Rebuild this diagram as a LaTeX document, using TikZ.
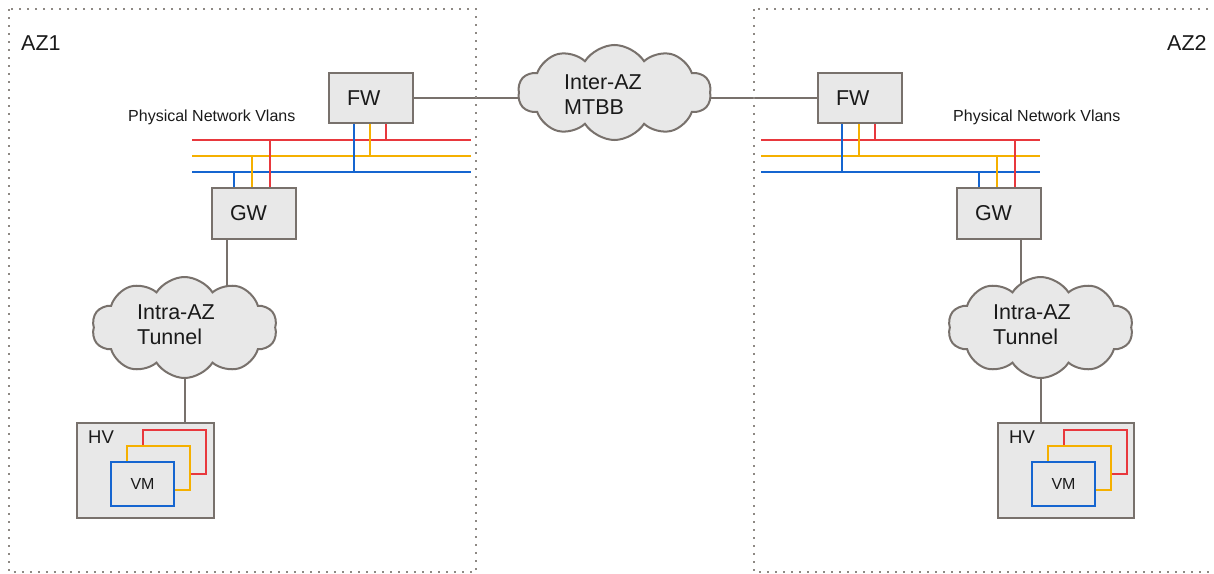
\documentclass[tikz,border=0pt]{standalone}
\usepackage{fontspec}
\setmainfont{Liberation Sans}
\usetikzlibrary{shapes.symbols,backgrounds}
\definecolor{edgegray}{HTML}{78716C}
\definecolor{boxfill}{HTML}{E8E8E8}
\definecolor{dotgray}{HTML}{8E8984}
\definecolor{vred}{HTML}{E8383D}
\definecolor{vyellow}{HTML}{F5B000}
\definecolor{vblue}{HTML}{1565D0}
\definecolor{inkblack}{HTML}{1A1A1A}
\begin{document}
\begin{tikzpicture}[x=1pt,y=-1pt,
  zone/.style={draw=dotgray, line width=1.6pt, dash pattern=on 1.6pt off 6.4pt},
  device/.style={draw=edgegray, fill=boxfill, line width=2.2pt,
    minimum width=84pt, minimum height=50pt, text width=48pt, inner xsep=18pt,
    align=left, font=\fontsize{21.5}{25}\selectfont, text=inkblack},
  host/.style={draw=edgegray, fill=boxfill, line width=2.2pt,
    minimum width=137pt, minimum height=95pt, inner sep=0pt},
  vmbox/.style={fill=boxfill, line width=1.8pt, minimum width=63pt,
    minimum height=44.5pt, inner sep=0pt, font=\fontsize{16}{18}\selectfont, text=inkblack},
  cloudnode/.style={cloud, cloud puffs=10, cloud puff arc=115, aspect=2,
    draw=edgegray, fill=boxfill, line width=2pt, inner sep=0pt},
  link/.style={draw=edgegray, line width=2pt},
  vlanred/.style={draw=vred, line width=2pt},
  vlanyellow/.style={draw=vyellow, line width=2pt},
  vlanblue/.style={draw=vblue, line width=2pt},
  bigtext/.style={font=\fontsize{21.5}{25}\selectfont, text=inkblack, inner sep=0pt},
  smalltext/.style={font=\fontsize{16}{19}\selectfont, text=inkblack, inner sep=0pt},
  hvtext/.style={font=\fontsize{18.5}{22}\selectfont, text=inkblack, inner sep=0pt}
]
\clip (0,0) rectangle (1214,573);
\useasboundingbox (0,0) rectangle (1214,573);

% availability zones
\draw[zone] (9,9) rectangle (476,572);
\draw[zone] (754,9) rectangle (1230,572);
\node[bigtext, anchor=base west] (az1) at (21,50) {AZ1};
\node[bigtext, anchor=base west] (az2) at (1167,50) {AZ2};

% firewalls and gateways
\node[device] (fw1) at (371,98) {FW};
\node[device] (fw2) at (860,98) {FW};
\node[device, minimum height=51pt] (gw1) at (254,213.5) {GW};
\node[device, minimum height=51pt] (gw2) at (999,213.5) {GW};

% clouds
\node[cloudnode, minimum width=193pt, minimum height=95pt] (inter) at (614.5,92.5) {};
\node[bigtext, align=left, anchor=north west, font=\fontsize{21.5}{24.5}\selectfont] (intertext) at (564,75) {Inter-AZ\\MTBB};
\node[cloudnode, minimum width=185pt, minimum height=101pt] (intra1) at (184.5,327.5) {};
\node[bigtext, align=left, anchor=north west] (intra1text) at (137,305) {Intra-AZ\\Tunnel};
\node[cloudnode, minimum width=185pt, minimum height=101pt] (intra2) at (1040.5,327.5) {};
\node[bigtext, align=left, anchor=north west] (intra2text) at (993,305) {Intra-AZ\\Tunnel};

% hypervisors with their VMs
\node[host] (hv1) at (145.5,470.5) {};
\node[hvtext, anchor=base west] (hv1text) at (88,443) {HV};
\node[vmbox, draw=vred] (vm1r) at (174.5,452) {};
\node[vmbox, draw=vyellow] (vm1y) at (158.5,468) {};
\node[vmbox, draw=vblue] (vm1b) at (142.5,484) {VM};

\node[host, minimum width=136pt] (hv2) at (1066,470.5) {};
\node[hvtext, anchor=base west] (hv2text) at (1009,443) {HV};
\node[vmbox, draw=vred] (vm2r) at (1095.5,452) {};
\node[vmbox, draw=vyellow] (vm2y) at (1079.5,468) {};
\node[vmbox, draw=vblue] (vm2b) at (1063.5,484) {VM};

% VLAN labels
\node[smalltext, anchor=base west] (vlan1) at (128,121) {Physical Network Vlans};
\node[smalltext, anchor=base west] (vlan2) at (953,121) {Physical Network Vlans};

\begin{scope}[on background layer]
  % links between devices and clouds
  \draw[link] (fw1.east) -- (fw1.east -| inter.center);
  \draw[link] (fw2.west) -- (fw2.west -| inter.center);
  \draw[link] ([xshift=16pt]gw1.south west) -- ([xshift=16pt]gw1.south west |- intra1.center);
  \draw[link] (intra1.center) -- (intra1.center |- hv1.north);
  \draw[link] ([xshift=-21pt]gw2.south east) -- ([xshift=-21pt]gw2.south east |- intra2.center);
  \draw[link] (intra2.center) -- (intra2.center |- hv2.north);

  % VLAN trunks
  \coordinate (a1r) at (192,140); \coordinate (a1y) at (192,156); \coordinate (a1b) at (192,172);
  \coordinate (a2r) at (761,140); \coordinate (a2y) at (761,156); \coordinate (a2b) at (761,172);
  \draw[vlanred] (a1r) -- ++(279,0);
  \draw[vlanyellow] (a1y) -- ++(279,0);
  \draw[vlanblue] (a1b) -- ++(279,0);
  \draw[vlanred] (a2r) -- ++(279,0);
  \draw[vlanyellow] (a2y) -- ++(279,0);
  \draw[vlanblue] (a2b) -- ++(279,0);

  % firewall drops
  \draw[vlanblue] ([xshift=26pt]fw1.south west) -- ([xshift=26pt]fw1.south west |- a1b);
  \draw[vlanyellow] ([xshift=42pt]fw1.south west) -- ([xshift=42pt]fw1.south west |- a1y);
  \draw[vlanred] ([xshift=58pt]fw1.south west) -- ++(0,15);
  \draw[vlanblue] ([xshift=25pt]fw2.south west) -- ([xshift=25pt]fw2.south west |- a2b);
  \draw[vlanyellow] ([xshift=42pt]fw2.south west) -- ([xshift=42pt]fw2.south west |- a2y);
  \draw[vlanred] ([xshift=58pt]fw2.south west) -- ++(0,15);

  % gateway drops
  \draw[vlanblue] ([xshift=23pt]gw1.north west) -- ([xshift=23pt]gw1.north west |- a1b);
  \draw[vlanyellow] ([xshift=41pt]gw1.north west) -- ([xshift=41pt]gw1.north west |- a1y);
  \draw[vlanred] ([xshift=59pt]gw1.north west) -- ([xshift=59pt]gw1.north west |- a1r);
  \draw[vlanblue] ([xshift=23pt]gw2.north west) -- ([xshift=23pt]gw2.north west |- a2b);
  \draw[vlanyellow] ([xshift=41pt]gw2.north west) -- ([xshift=41pt]gw2.north west |- a2y);
  \draw[vlanred] ([xshift=59pt]gw2.north west) -- ([xshift=59pt]gw2.north west |- a2r);
\end{scope}
\end{tikzpicture}
\end{document}
